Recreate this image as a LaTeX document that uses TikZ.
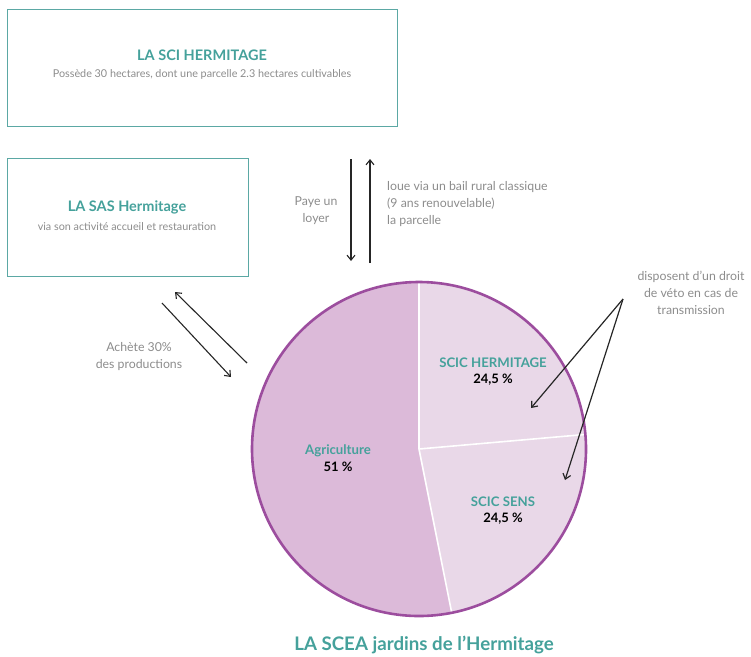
\documentclass[tikz,border=0pt]{standalone}
\usepackage{fontspec}
\setmainfont{Lato}
\usetikzlibrary{arrows.meta,calc}
\definecolor{teal1}{HTML}{45A19B}
\definecolor{boxline}{HTML}{5BA8A4}
\definecolor{greytxt}{HTML}{8C8C8C}
\definecolor{agri}{HTML}{DCBAD9}
\definecolor{scic}{HTML}{E9D8E8}
\definecolor{pieline}{HTML}{9C4D9E}
\tikzset{
  framebox/.style={draw=boxline, line width=1.4pt},
  titletxt/.style={font=\fontsize{14.5}{16}\selectfont\bfseries, text=teal1, inner sep=0pt},
  subtxt/.style={font=\fontsize{10.8}{12}\selectfont, text=greytxt, inner sep=0pt},
  notetxt/.style={font=\fontsize{12.3}{17}\selectfont, text=greytxt, inner sep=0pt},
  pietitle/.style={font=\fontsize{13.2}{14}\selectfont\bfseries, text=teal1, inner sep=0pt},
  pieval/.style={font=\fontsize{13}{14}\selectfont\bfseries, text=black, inner sep=0pt},
  flow/.style={line width=1.1pt, draw=black!85, -{Straight Barb[length=5pt,width=8pt]}},
}
\begin{document}
\begin{tikzpicture}[x=1pt,y=-1pt]
\useasboundingbox (0,0) rectangle (751,656);
% boxes
\node[framebox, minimum width=390pt, minimum height=117pt, anchor=north west, inner sep=0pt] (sci) at (7,9) {};
\node[titletxt] (scititle) at (202,55) {LA SCI HERMITAGE};
\node[subtxt] (scisub) at (202,74) {Possède 30 hectares, dont une parcelle 2.3 hectares cultivables};
\node[framebox, minimum width=241pt, minimum height=118pt, anchor=north west, inner sep=0pt] (sas) at (7,158) {};
\node[titletxt] (sastitle) at (127,207) {LA SAS Hermitage};
\node[subtxt] (sassub) at (127,227) {via son activité accueil et restauration};
% vertical arrows
\coordinate (d1) at (351,159);
\coordinate (d2) at (351,261);
\coordinate (u1) at (370,263);
\coordinate (u2) at (370,159);
\draw[flow] (d1) -- (d2);
\draw[flow] (u1) -- (u2);
\node[notetxt, align=center] (paye) at (316,211) {Paye un\\loyer};
\node[notetxt, align=left, anchor=west] (loue) at (387,204) {loue via un bail rural classique\\(9 ans renouvelable)\\la parcelle};
% diagonal arrows
\coordinate (a1) at (247,363);
\coordinate (a2) at (175,292);
\coordinate (b1) at (162,303);
\coordinate (b2) at (231,377);
\draw[flow] (a1) -- (a2);
\draw[flow] (b1) -- (b2);
\node[notetxt, align=center] (achete) at (139,357) {Achète 30\%\\des productions};
% pie
\coordinate (c) at (419,449);
\fill[scic] (c) circle[radius=167];
\fill[agri] (c) -- +(-90:167) arc[start angle=-90, end angle=-281.3, radius=167] -- cycle;
\draw[white, line width=1.6pt] (c) -- +(-90:167);
\draw[white, line width=1.6pt] (c) -- +(-5:167);
\draw[white, line width=1.6pt] (c) -- +(78.7:167);
\draw[pieline, line width=2.6pt] (c) circle[radius=167];
\node[pietitle] (agrt) at (338,451) {Agriculture};
\node[pieval] (agrv) at (338,467) {51 \%};
\node[pietitle] (hermt) at (493,363) {SCIC HERMITAGE};
\node[pieval] (hermv) at (493,380) {24,5 \%};
\node[pietitle] (senst) at (503,502) {SCIC SENS};
\node[pieval] (sensv) at (503,519) {24,5 \%};
% veto note
\node[notetxt, align=center] (veto) at (691,293) {disposent d’un droit\\de véto en cas de\\transmission};
\coordinate (v0) at (623,299);
\coordinate (v1) at (531,408);
\coordinate (v2) at (565,480);
\draw[flow, line width=1.2pt] (v0) -- (v1);
\draw[flow, line width=1.2pt] (v0) -- (v2);
% bottom title
\node[font=\fontsize{18.7}{21}\selectfont\bfseries, text=teal1, inner sep=0pt] (scea) at (424,645) {LA SCEA jardins de l’Hermitage};
\end{tikzpicture}
\end{document}
